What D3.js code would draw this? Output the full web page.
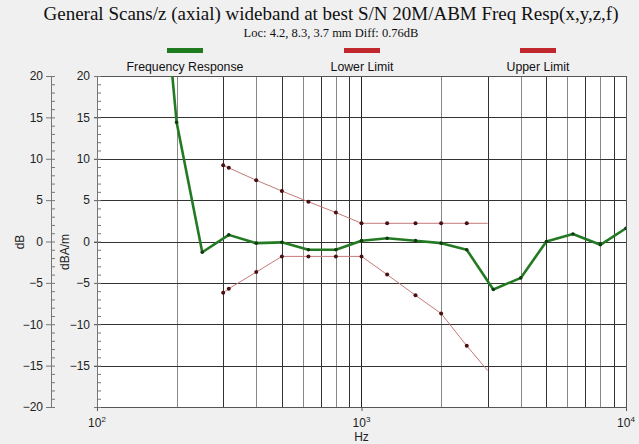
<!DOCTYPE html>
<html><head><meta charset="utf-8">
<script src="https://cdn.jsdelivr.net/npm/d3@7"></script>
<style>
html,body{margin:0;padding:0;background:#f0f0f0;}
svg{display:block;}
</style></head>
<body>
<svg id="c" width="639" height="444"></svg>
<script>
// ---- data ----
const respFreqs = [160,200,250,315,400,500,630,800,1000,1250,1600,2000,2500,3150,4000,5000,6300,8000,10000];
const response  = [48,14.4,-1.3,0.8,-0.2,-0.1,-1.0,-1.0,0.1,0.4,0.1,-0.2,-1.0,-5.8,-4.4,0.0,0.9,-0.4,1.6];
const limitFreqs = [300,315,400,500,630,800,1000,1250,1600,2000,2500,3000];
const upperLimit = [9.2,8.9,7.4,6.1,4.8,3.5,2.2,2.2,2.2,2.2,2.2,2.2];
const lowerLimit = [-6.2,-5.7,-3.7,-1.8,-1.8,-1.8,-1.8,-4.0,-6.5,-8.7,-12.6,-15.6];
const markedLimitFreqs = [300,315,400,500,630,800,1000,1250,1600,2000,2500];
const yMajor = [-20,-15,-10,-5,0,5,10,15,20];
const innerLabels = [-15,-10,-5,0,5,10,15,20];
const xDecades = [100,1000,10000];
const xDecadeExp = ["2","3","4"];
const legendItems = ["Frequency Response","Lower Limit","Upper Limit"];
const title = "General Scans/z (axial) wideband at best S/N 20M/ABM Freq Resp(x,y,z,f)";
const subtitle = "Loc: 4.2, 8.3, 3.7 mm Diff: 0.76dB";

// ---- layout ----
const svg = d3.select("#c");
const X0 = 97, X1 = 626, Y0 = 76, Y1 = 407;
const x = d3.scaleLog().domain([100,10000]).range([X0,X1]);
const y = d3.scaleLinear().domain([-20,20]).range([Y1,Y0]);
const sans = "'Liberation Sans', Arial, sans-serif";
const serif = "'Liberation Serif', 'Times New Roman', serif";

svg.append("rect").attr("width",639).attr("height",444).attr("fill","#f0f0f0");

// title
svg.append("text").attr("x",331).attr("y",20).attr("text-anchor","middle")
  .attr("font-family",serif).attr("font-size",19).attr("fill","#111").text(title);
svg.append("text").attr("x",331).attr("y",37).attr("text-anchor","middle")
  .attr("font-family",serif).attr("font-size",12.5).attr("fill","#111").text(subtitle);

// legend
const legColors = ["#1e7b1e","#c0282d","#c0282d"];
const legCx = [185,362,538];
legendItems.forEach((t,i)=>{
  svg.append("rect").attr("x",legCx[i]-18).attr("y",48).attr("width",36).attr("height",5).attr("fill",legColors[i]);
  svg.append("text").attr("x",legCx[i]).attr("y",71).attr("text-anchor","middle")
    .attr("font-family",sans).attr("font-size",12.3).attr("fill","#111").text(t);
});

// plot background
svg.append("rect").attr("x",X0).attr("y",Y0).attr("width",X1-X0).attr("height",Y1-Y0).attr("fill","#fff");

// vertical grid (log minor)
const vGrid = [];
[100,1000].forEach(d=>{ for(let k=2;k<=9;k++) vGrid.push(d*k); });
vGrid.push(1000);
svg.append("g").selectAll("line").data(vGrid).join("line")
  .attr("x1",d=>Math.round(x(d))+0.5).attr("x2",d=>Math.round(x(d))+0.5)
  .attr("y1",Y0).attr("y2",Y1)
  .attr("stroke",(d,i)=> (d===1000 ? "#222" : (i%2===1 ? "#333" : "#888"))).attr("stroke-width",1);

// horizontal grid
svg.append("g").selectAll("line").data(yMajor.filter(v=>v>-20&&v<20)).join("line")
  .attr("x1",X0-3).attr("x2",X1).attr("y1",d=>Math.round(y(d))+0.5).attr("y2",d=>Math.round(y(d))+0.5)
  .attr("stroke","#333").attr("stroke-width",1);

// border
svg.append("rect").attr("x",X0+0.5).attr("y",Y0+0.5).attr("width",X1-X0).attr("height",Y1-Y0)
  .attr("fill","none").attr("stroke","#555");

// outer left axis (dB)
const outer = svg.append("g").attr("transform","translate(51,0)");
outer.call(d3.axisLeft(y).tickValues(yMajor).tickSize(5).tickFormat(d3.format("d")));
const outerMinor = svg.append("g").attr("transform","translate(51,0)");
outerMinor.call(d3.axisRight(y).tickValues(d3.range(-20,21,1)).tickSize(4).tickFormat(""));
[outer,outerMinor].forEach(g=>{
  g.select(".domain").attr("stroke","#777");
  g.selectAll(".tick line").attr("stroke","#777");
});
outer.selectAll("text").attr("font-family",sans).attr("font-size",12).attr("fill","#222").attr("x",-8);

// inner left axis (dBA/m)
const inner = svg.append("g").attr("transform",`translate(${X0},0)`);
inner.call(d3.axisLeft(y).tickValues(innerLabels).tickSize(3).tickFormat(d3.format("d")));
const innerMinor = svg.append("g").attr("transform",`translate(${X0},0)`);
innerMinor.call(d3.axisRight(y).tickValues(d3.range(-20,21,1)).tickSize(4).tickFormat(""));
[inner,innerMinor].forEach(g=>{
  g.select(".domain").attr("stroke","#777");
  g.selectAll(".tick line").attr("stroke","#777");
});
inner.selectAll("text").attr("font-family",sans).attr("font-size",12).attr("fill","#222").attr("x",-7);

// axis titles
svg.append("text").attr("transform","translate(24,242) rotate(-90)").attr("text-anchor","middle")
  .attr("font-family",sans).attr("font-size",12).attr("fill","#222").text("dB");
svg.append("text").attr("transform","translate(69,252) rotate(-90)").attr("text-anchor","middle")
  .attr("font-family",sans).attr("font-size",12).attr("fill","#222").text("dBA/m");

// x axis
const xa = svg.append("g").attr("transform",`translate(0,${Y1})`);
xa.call(d3.axisBottom(x).tickValues(xDecades).tickSize(4).tickFormat(""));
xa.select(".domain").remove();
xa.selectAll(".tick line").attr("stroke","#555");
xDecades.forEach((d,i)=>{
  const t = svg.append("text").attr("x",x(d)).attr("y",427).attr("text-anchor","middle")
    .attr("font-family",sans).attr("font-size",12).attr("fill","#222");
  t.append("tspan").text("10");
  t.append("tspan").attr("dy",-5).attr("font-size",8).text(xDecadeExp[i]);
});
svg.append("text").attr("x",x(1000)).attr("y",441).attr("text-anchor","middle")
  .attr("font-family",sans).attr("font-size",12).attr("fill","#222").text("Hz");

// clip
svg.append("clipPath").attr("id","pc").append("rect")
  .attr("x",X0).attr("y",Y0).attr("width",X1-X0).attr("height",Y1-Y0);
const plot = svg.append("g").attr("clip-path","url(#pc)");

const line = d3.line().x(d=>x(d[0])).y(d=>y(d[1]));

// limits
const up = limitFreqs.map((f,i)=>[f,upperLimit[i]]);
const lo = limitFreqs.map((f,i)=>[f,lowerLimit[i]]);
[up,lo].forEach(s=>{
  plot.append("path").attr("d",line(s)).attr("fill","none").attr("stroke","#c47a7a").attr("stroke-width",1);
  plot.append("g").selectAll("circle").data(s.filter(d=>markedLimitFreqs.includes(d[0]))).join("circle")
    .attr("cx",d=>x(d[0])).attr("cy",d=>y(d[1])).attr("r",2).attr("fill","#4a1010");
});

// response
const rs = respFreqs.map((f,i)=>[f,response[i]]);
plot.append("path").attr("d",line(rs)).attr("fill","none").attr("stroke","#237a23")
  .attr("stroke-width",2.6).attr("stroke-linejoin","round");
plot.append("g").selectAll("circle").data(rs).join("circle")
  .attr("cx",d=>x(d[0])).attr("cy",d=>y(d[1])).attr("r",1.8).attr("fill","#123a12");
</script>
</body></html>
